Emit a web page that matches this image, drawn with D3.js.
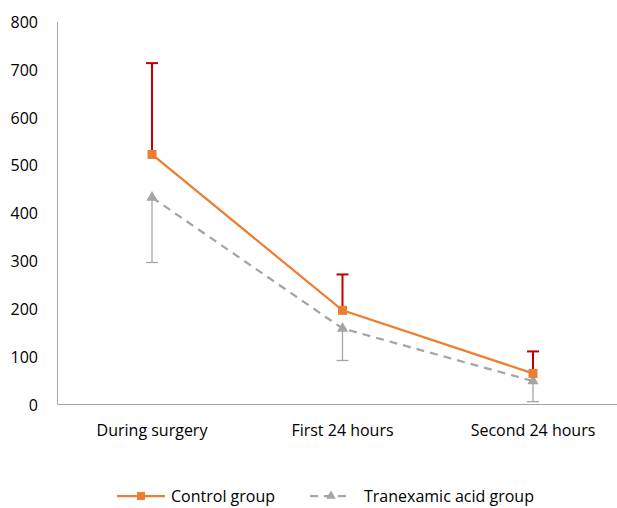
<!DOCTYPE html>
<html>
<head>
<meta charset="utf-8">
<script src="https://cdn.jsdelivr.net/npm/d3@7"></script>
<style>
body { margin:0; background:#fff; }
text { font-family: "Open Sans", "Liberation Sans", sans-serif; fill:#000; }
</style>
</head>
<body>
<div id="chart"></div>
<script>
// periods on the x axis
var periods = ["During surgery", "First 24 hours", "Second 24 hours"];
// control group: mean and +SD
var controlMean = [523, 197, 65];
var controlSD = [191, 75, 46];
// tranexamic acid group: mean and -SD
var txaMean = [433, 159, 49];
var txaSD = [136, 67, 43];
var yTicks = [0, 100, 200, 300, 400, 500, 600, 700, 800];

var W = 617, H = 508;
var svg = d3.select("#chart").append("svg")
	.attr("width", W)
	.attr("height", H);

var x = d3.scalePoint()
	.domain(periods)
	.range([152, 533]);

var y = d3.scaleLinear()
	.domain([0, 800])
	.range([404.5, 22]);

// axes
svg.append("line")
	.attr("x1", 57.5).attr("x2", 57.5)
	.attr("y1", y(800)).attr("y2", y(0))
	.attr("stroke", "#a6a6a6");
svg.append("line")
	.attr("x1", 57.5).attr("x2", W)
	.attr("y1", y(0)).attr("y2", y(0))
	.attr("stroke", "#a6a6a6");

svg.selectAll(".ytick")
	.data(yTicks)
	.enter()
	.append("text")
	.attr("x", 38)
	.attr("y", function(d){ return y(d); })
	.attr("text-anchor", "end")
	.attr("dominant-baseline", "central")
	.style("font-size", "16px")
	.text(function(d){ return d; });

svg.selectAll(".xtick")
	.data(periods)
	.enter()
	.append("text")
	.attr("x", function(d){ return x(d); })
	.attr("y", 430)
	.attr("text-anchor", "middle")
	.attr("dominant-baseline", "central")
	.style("font-size", "16px")
	.text(function(d){ return d; });

// error bars
function errBars(mean, sd, dir, color, width) {
	var g = svg.append("g");
	periods.forEach(function(p, i){
		var y1 = y(mean[i]), y2 = y(mean[i] + dir*sd[i]);
		g.append("line")
			.attr("x1", x(p)).attr("x2", x(p))
			.attr("y1", y1).attr("y2", y2)
			.attr("stroke", color).attr("stroke-width", width);
		g.append("line")
			.attr("x1", x(p)-6).attr("x2", x(p)+6)
			.attr("y1", y2).attr("y2", y2)
			.attr("stroke", color).attr("stroke-width", width);
	});
}
errBars(txaMean, txaSD, -1, "#a5a5a5", 1.3);
errBars(controlMean, controlSD, 1, "#c00000", 2);

var line = d3.line()
	.x(function(d, i){ return x(periods[i]); })
	.y(function(d){ return y(d); });

// tranexamic acid line
svg.append("path")
	.datum(txaMean)
	.attr("d", line)
	.attr("fill", "none")
	.attr("stroke", "#a5a5a5")
	.attr("stroke-width", 2.25)
	.attr("stroke-dasharray", "8,6");

var tri = d3.symbol().type(d3.symbolTriangle).size(55);
svg.selectAll(".tri")
	.data(txaMean)
	.enter()
	.append("path")
	.attr("d", tri)
	.attr("transform", function(d, i){ return "translate(" + x(periods[i]) + "," + y(d) + ")"; })
	.attr("fill", "#a5a5a5");

// control line
svg.append("path")
	.datum(controlMean)
	.attr("d", line)
	.attr("fill", "none")
	.attr("stroke", "#ed7d31")
	.attr("stroke-width", 2.25);

svg.selectAll(".sq")
	.data(controlMean)
	.enter()
	.append("rect")
	.attr("x", function(d, i){ return x(periods[i]) - 4.5; })
	.attr("y", function(d){ return y(d) - 4.5; })
	.attr("width", 9)
	.attr("height", 9)
	.attr("fill", "#ed7d31");

// legend
var ly = 496;
svg.append("line")
	.attr("x1", 117).attr("x2", 165)
	.attr("y1", ly).attr("y2", ly)
	.attr("stroke", "#ed7d31").attr("stroke-width", 2.25);
svg.append("rect")
	.attr("x", 137).attr("y", ly-4).attr("width", 8).attr("height", 8)
	.attr("fill", "#ed7d31");
svg.append("text")
	.attr("x", 171).attr("y", ly)
	.attr("dominant-baseline", "central")
	.style("font-size", "16px")
	.text("Control group");

svg.append("line")
	.attr("x1", 310).attr("x2", 352)
	.attr("y1", ly).attr("y2", ly)
	.attr("stroke", "#a5a5a5").attr("stroke-width", 2.25)
	.attr("stroke-dasharray", "8,6");
svg.append("path")
	.attr("d", d3.symbol().type(d3.symbolTriangle).size(40))
	.attr("transform", "translate(331," + ly + ")")
	.attr("fill", "#a5a5a5");
svg.append("text")
	.attr("x", 364).attr("y", ly)
	.attr("dominant-baseline", "central")
	.style("font-size", "16px")
	.text("Tranexamic acid group");
</script>
</body>
</html>
